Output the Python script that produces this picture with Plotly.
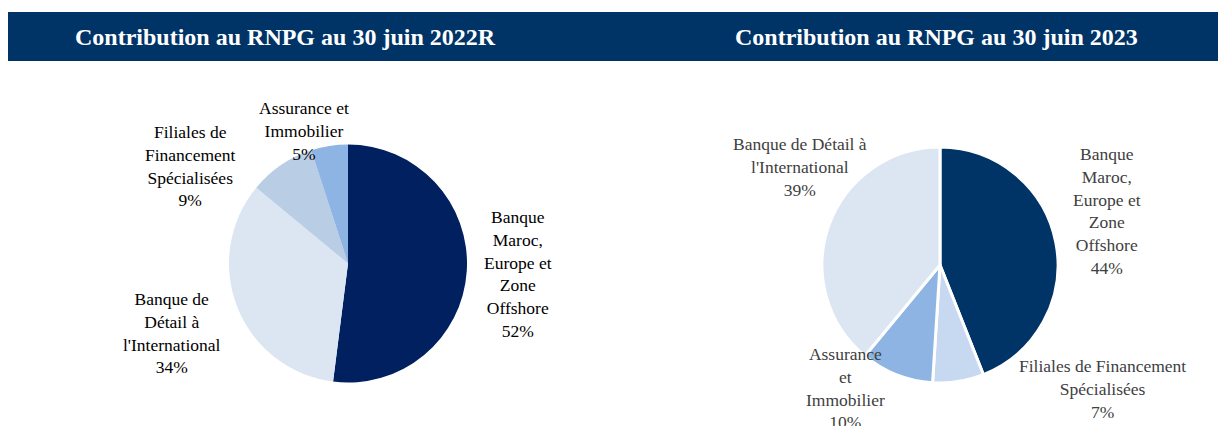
import plotly.graph_objects as go

# ---- data ----
titles = ["Contribution au RNPG au 30 juin 2022R", "Contribution au RNPG au 30 juin 2023"]

segments_2022 = ["Banque Maroc, Europe et Zone Offshore", "Banque de Détail à l'International",
                 "Filiales de Financement Spécialisées", "Assurance et Immobilier"]
values_2022 = [52, 34, 9, 5]
wrapped_2022 = ["Banque<br>Maroc,<br>Europe et<br>Zone<br>Offshore", "Banque de<br>Détail à<br>l'International",
                "Filiales de<br>Financement<br>Spécialisées", "Assurance et<br>Immobilier"]

segments_2023 = ["Banque Maroc, Europe et Zone Offshore", "Filiales de Financement Spécialisées",
                 "Assurance et Immobilier", "Banque de Détail à l'International"]
values_2023 = [44, 7, 10, 39]
wrapped_2023 = ["Banque<br>Maroc,<br>Europe et<br>Zone<br>Offshore", "Filiales de Financement<br>Spécialisées",
                "Assurance<br>et<br>Immobilier", "Banque de Détail à<br>l'International"]

colors_2022 = ["#002060", "#DCE6F2", "#B9CDE5", "#8EB4E3"]
colors_2023 = ["#003366", "#C6D9F1", "#8EB4E3", "#DCE6F2"]

# ---- layout helpers (page has an 8px offset) ----
W, H = 1226, 426
OFF = 8
def px(x):
    return (x - OFF) / W
def py(y):
    return 1 - (y - OFF) / H

FONT = "Liberation Serif, Times New Roman, serif"

fig = go.Figure()

fig.add_trace(go.Pie(
    values=values_2022, labels=segments_2022, sort=False, direction="clockwise", rotation=0,
    marker=dict(colors=colors_2022, line=dict(width=0)), textinfo="none", hoverinfo="label+percent",
    domain=dict(x=[px(229), px(467)], y=[py(382.5), py(144.5)]), showlegend=False,
))
fig.add_trace(go.Pie(
    values=values_2023, labels=segments_2023, sort=False, direction="clockwise", rotation=0,
    marker=dict(colors=colors_2023, line=dict(width=3, color="white")), textinfo="none",
    hoverinfo="label+percent",
    domain=dict(x=[px(822), px(1058)], y=[py(383), py(147)]), showlegend=False,
))

# title band
fig.add_shape(type="rect", xref="paper", yref="paper", x0=px(7), x1=1.01, y0=py(61), y1=py(12),
              fillcolor="#003366", line=dict(width=0), layer="below")

annotations = []
for t, cx in zip(titles, [285, 936]):
    annotations.append(dict(text="<b>%s</b>" % t, x=px(cx), y=py(37), xref="paper", yref="paper",
                            showarrow=False, xanchor="center", yanchor="middle",
                            font=dict(family=FONT, size=24, color="white")))

pos_2022 = [(518, 274), (172, 333), (190, 166), (304, 131)]
pos_2023 = [(1107, 211), (1102, 389), (845, 388), (800, 167)]

for wrapped, vals, pos, col in [(wrapped_2022, values_2022, pos_2022, "#000000"),
                                (wrapped_2023, values_2023, pos_2023, "#404040")]:
    for w, v, (x, y) in zip(wrapped, vals, pos):
        annotations.append(dict(text="%s<br>%d%%" % (w, v), x=px(x), y=py(y), xref="paper", yref="paper",
                                showarrow=False, xanchor="center", yanchor="middle", align="center",
                                font=dict(family=FONT, size=17.5, color=col)))

fig.update_layout(width=W, height=H, margin=dict(l=0, r=0, t=0, b=0),
                  paper_bgcolor="white", plot_bgcolor="white", annotations=annotations)

fig.write_html("out.html")
